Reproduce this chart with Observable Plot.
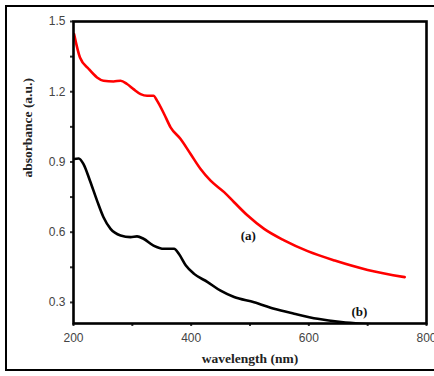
<!DOCTYPE html>
<html><head><meta charset="utf-8">
<script src="https://cdn.jsdelivr.net/npm/d3@7"></script>
<script src="https://cdn.jsdelivr.net/npm/@observablehq/plot@0.6"></script>
<style>
body{margin:0;background:#fff;width:434px;height:376px;overflow:hidden;position:relative}
#border{position:absolute;left:5px;top:5px;width:440px;height:366px;border:2px solid #000;box-sizing:border-box}
#chart{position:absolute;left:0;top:0}
</style></head><body>
<div id="border"></div>
<div id="chart"></div>
<script>
const wlA = [201,211,226,240,251,268,280,291,302,314,325,336,342,354,365,382,399,416,433,456,473,496,524,558,598,644,700,763];
const absA = [1.446,1.346,1.297,1.261,1.247,1.244,1.247,1.233,1.211,1.190,1.183,1.183,1.162,1.105,1.048,0.998,0.934,0.870,0.820,0.771,0.728,0.671,0.614,0.565,0.519,0.479,0.439,0.408];
const wlB = [201,209,217,228,240,251,263,280,297,308,319,336,354,371,379,391,405,428,450,473,507,541,575,615,655,689,712];
const absB = [0.913,0.915,0.891,0.820,0.735,0.664,0.614,0.586,0.579,0.582,0.572,0.543,0.529,0.529,0.508,0.458,0.422,0.387,0.350,0.323,0.301,0.273,0.252,0.230,0.216,0.209,0.206];
const curveLabels = ["(a)","(b)"];
const labelX = [497,686];
const labelY = [0.586,0.259];
const xTicks = [200,400,600,800];
const xMinor = [300,500,700];
const yTicks = [0.3,0.6,0.9,1.2,1.5];
const yMinor = [0.45,0.75,1.05,1.35];
const xTitle = "wavelength (nm)";
const yTitle = "absorbance (a.u.)";

const A = wlA.map((w,i)=>({w, a:absA[i]}));
const B = wlB.map((w,i)=>({w, a:absB[i]}));
const L = curveLabels.map((t,i)=>({t, x:labelX[i], y:labelY[i]}));

const serif = "'Liberation Serif', 'Times New Roman', serif";
const sans = "'Liberation Sans', Arial, sans-serif";

const chart = Plot.plot({
  width: 434, height: 376,
  marginLeft: 73, marginRight: 8, marginTop: 21, marginBottom: 53,
  style: {fontFamily: sans, fontSize: "12px", color: "#333", background: "transparent"},
  x: {domain: [200, 800]},
  y: {domain: [0.21, 1.5]},
  marks: [
    Plot.line(B, {x: "w", y: "a", stroke: "#000", strokeWidth: 2.6, curve: "monotone-x", clip: true}),
    Plot.line(A, {x: "w", y: "a", stroke: "#ff0000", strokeWidth: 2.6, curve: "monotone-x", clip: true}),
    Plot.text(L, {x: "x", y: "y", text: "t", fontFamily: serif, fontWeight: "bold", fontSize: 13, fill: "#111"}),
    Plot.axisX({ticks: xTicks, tickSize: 3, strokeWidth: 2, tickPadding: 7, label: null, fill: "#444"}),
    Plot.axisX({ticks: xMinor, tickSize: 3, strokeWidth: 2, tickFormat: () => "", label: null}),
    Plot.axisY({ticks: yTicks, tickSize: 3, strokeWidth: 2, tickPadding: 5, label: null, fill: "#444", tickFormat: d3.format(".1f")}),
    Plot.axisY({ticks: yMinor, tickSize: 3, strokeWidth: 2, tickFormat: () => "", label: null}),
    Plot.frame({stroke: "#000", strokeWidth: 2.6}),
    Plot.text([xTitle], {frameAnchor: "bottom", dy: 39, fontFamily: serif, fontWeight: "bold", fontSize: 13.5, fill: "#222", letterSpacing: "0.5px"}),
    Plot.text([yTitle], {frameAnchor: "left", dx: -46, dy: 5, rotate: -90, fontFamily: serif, fontWeight: "bold", fontSize: 13.5, fill: "#222"})
  ]
});
document.getElementById("chart").appendChild(chart);
</script>
</body></html>
